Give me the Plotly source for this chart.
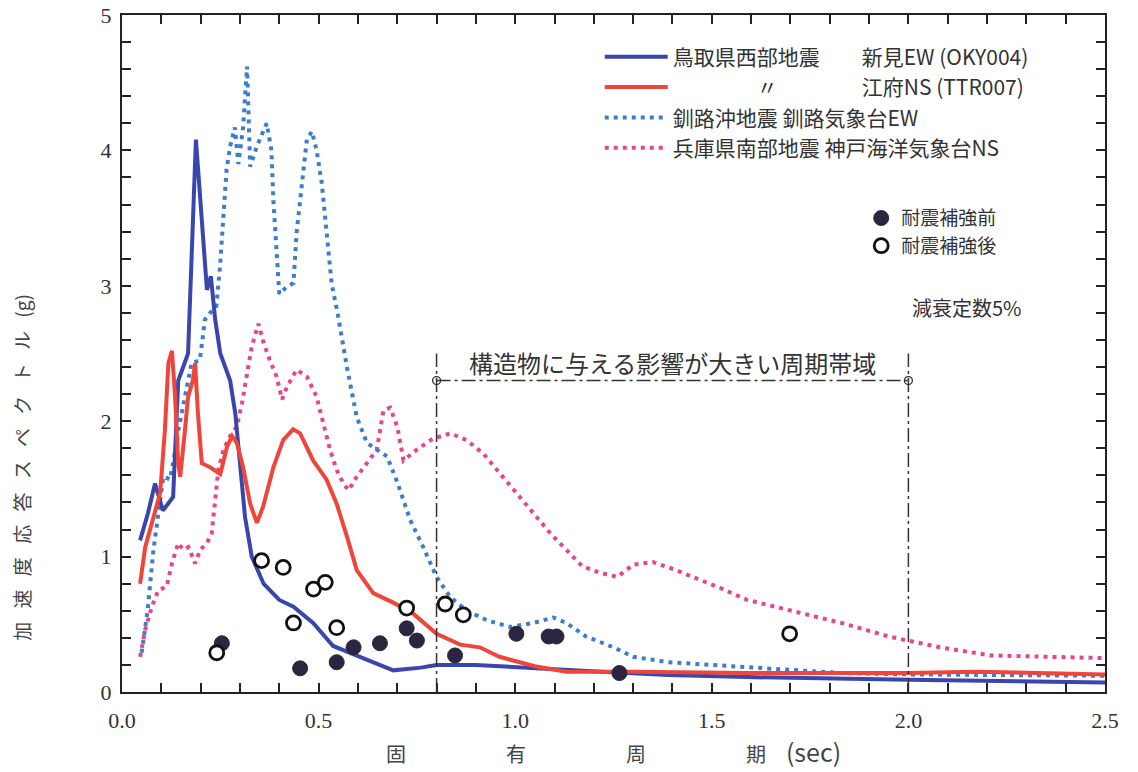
import plotly.graph_objects as go

# ---------------- data ----------------
niimi_T = [0.046, 0.066, 0.084, 0.104, 0.13, 0.143, 0.168, 0.188, 0.216, 0.226, 0.237, 0.25, 0.275,
           0.288, 0.30, 0.313, 0.33, 0.36, 0.40, 0.436, 0.486, 0.537, 0.605, 0.69, 0.76, 0.80, 0.90,
           1.05, 1.22, 1.39, 1.59, 2.0, 2.5]
niimi_S = [1.12, 1.32, 1.54, 1.34, 1.44, 2.3, 2.5, 4.08, 2.97, 3.07, 2.75, 2.5, 2.3,
           2.06, 1.69, 1.29, 1.0, 0.8, 0.68, 0.63, 0.51, 0.34, 0.26, 0.16, 0.18, 0.2, 0.2,
           0.18, 0.15, 0.125, 0.11, 0.09, 0.07]

efu_T = [0.046, 0.059, 0.08, 0.097, 0.109, 0.118, 0.127, 0.135, 0.143, 0.148, 0.16, 0.168, 0.18,
         0.186, 0.193, 0.203, 0.224, 0.25, 0.267, 0.28, 0.292, 0.308, 0.326, 0.343, 0.359, 0.385,
         0.41, 0.435, 0.453, 0.486, 0.52, 0.546, 0.572, 0.597, 0.639, 0.69, 0.74, 0.80, 0.86, 0.91,
         0.96, 1.05, 1.13, 1.3, 1.59, 2.0, 2.17, 2.5]
efu_S = [0.8, 1.07, 1.29, 1.47, 1.93, 2.43, 2.52, 2.18, 1.69, 1.59, 1.93, 2.18, 2.3,
         2.43, 2.06, 1.69, 1.66, 1.61, 1.81, 1.89, 1.84, 1.66, 1.39, 1.25, 1.37, 1.66,
         1.86, 1.94, 1.91, 1.71, 1.57, 1.39, 1.15, 0.9, 0.73, 0.66, 0.58, 0.43, 0.35, 0.33,
         0.26, 0.19, 0.15, 0.15, 0.14, 0.14, 0.15, 0.13]

kushiro_T = [0.05, 0.065, 0.08, 0.105, 0.122, 0.13, 0.143, 0.156, 0.169, 0.177, 0.198, 0.211, 0.224,
             0.24, 0.25, 0.258, 0.266, 0.275, 0.287, 0.296, 0.308, 0.318, 0.326, 0.343, 0.368, 0.38,
             0.385, 0.393, 0.40, 0.418, 0.436, 0.444, 0.458, 0.47, 0.483, 0.495, 0.508, 0.52, 0.533,
             0.55, 0.572, 0.597, 0.623, 0.648, 0.674, 0.70, 0.733, 0.766, 0.80, 0.835, 0.877, 0.928,
             0.987, 1.046, 1.097, 1.13, 1.18, 1.25, 1.30, 1.39, 1.51, 1.59, 1.83, 2.0, 2.5]
kushiro_S = [0.29, 0.6, 1.05, 1.59, 1.57, 1.69, 1.93, 2.13, 2.3, 2.43, 2.45, 2.75, 2.8,
             2.85, 3.17, 3.49, 3.86, 4.03, 4.17, 3.9, 4.17, 4.62, 3.88, 4.03, 4.2, 4.0,
             3.63, 3.26, 2.94, 2.99, 3.02, 3.39, 3.76, 4.08, 4.14, 4.0, 3.76, 3.39, 3.02,
             2.77, 2.4, 2.03, 1.84, 1.79, 1.74, 1.55, 1.27, 1.07, 0.85, 0.7, 0.6, 0.53,
             0.48, 0.51, 0.55, 0.51, 0.41, 0.33, 0.26, 0.22, 0.2, 0.18, 0.14, 0.13, 0.12]

kobe_T = [0.046, 0.059, 0.076, 0.092, 0.114, 0.127, 0.143, 0.156, 0.169, 0.186, 0.199, 0.216, 0.228,
          0.237, 0.245, 0.258, 0.275, 0.292, 0.305, 0.318, 0.33, 0.347, 0.36, 0.376, 0.393, 0.407,
          0.419, 0.444, 0.47, 0.495, 0.512, 0.529, 0.546, 0.563, 0.576, 0.597, 0.623, 0.648, 0.665,
          0.682, 0.70, 0.716, 0.75, 0.79, 0.835, 0.877, 0.919, 0.962, 1.004, 1.046, 1.09, 1.13,
          1.17, 1.216, 1.26, 1.30, 1.35, 1.40, 1.47, 1.52, 1.59, 1.70, 1.83, 1.95, 2.08, 2.21,
          2.34, 2.5]
kobe_S = [0.26, 0.46, 0.63, 0.75, 0.78, 0.95, 1.1, 1.05, 1.07, 0.95, 1.05, 1.1, 1.17,
          1.44, 1.64, 1.79, 1.89, 1.96, 2.13, 2.35, 2.55, 2.72, 2.58, 2.45, 2.33, 2.16,
          2.25, 2.38, 2.33, 2.18, 1.98, 1.79, 1.64, 1.54, 1.49, 1.59, 1.69, 1.79, 2.08,
          2.1, 1.96, 1.71, 1.79, 1.87, 1.91, 1.86, 1.76, 1.61, 1.47, 1.32, 1.17, 1.05,
          0.93, 0.88, 0.85, 0.94, 0.96, 0.91, 0.83, 0.77, 0.68, 0.6, 0.51, 0.41, 0.33, 0.27,
          0.26, 0.25]

before_T = [0.254, 0.453, 0.546, 0.589, 0.656, 0.724, 0.75, 0.847, 1.003, 1.085, 1.105, 1.265]
before_S = [0.36, 0.175, 0.22, 0.33, 0.36, 0.47, 0.38, 0.27, 0.43, 0.41, 0.41, 0.14]

after_T = [0.241, 0.355, 0.41, 0.436, 0.487, 0.517, 0.546, 0.724, 0.822, 0.868, 1.698]
after_S = [0.29, 0.97, 0.92, 0.51, 0.76, 0.81, 0.475, 0.62, 0.65, 0.57, 0.43]

series_names = [
    "鳥取県西部地震　　新見EW (OKY004)",
    "　　　　〃　　　　江府NS (TTR007)",
    "釧路沖地震 釧路気象台EW",
    "兵庫県南部地震 神戸海洋気象台NS",
]
marker_names = ["耐震補強前", "耐震補強後"]

band_start, band_end, band_level, band_top = 0.8, 2.0, 2.3, 2.5
band_label = "構造物に与える影響が大きい周期帯域"
damping_label = "減衰定数5%"
y_title = "\u2002\u2009".join(["加", "速", "度", "応", "答", "ス", "ペ", "ク", "ト", "ル", "(g)"])
x_title = "固　　　　　有　　　　　周　　　　　期\u2003<span style='font-size:25px'>(sec)</span>"

x_ticks = [round(i * 0.1, 1) for i in range(26)]
x_labels = {0.0: "0.0", 0.5: "0.5", 1.0: "1.0", 1.5: "1.5", 2.0: "2.0", 2.5: "2.5"}
y_ticks = [round(i * 0.2, 1) for i in range(26)]
y_labels = {0.0: "0", 1.0: "1", 2.0: "2", 3.0: "3", 4.0: "4", 5.0: "5"}

# ---------------- figure ----------------
JP = "Noto Sans CJK JP"
SERIF = "Liberation Serif"
BLUE = "#3a46ad"
RED = "#f0453a"
LBLUE = "#3f7ccc"
PINK = "#e8458f"
DARK = "#2b2540"
AX = "#222"

fig = go.Figure()

fig.add_trace(go.Scatter(x=kobe_T, y=kobe_S, mode="lines", name=series_names[3], legendrank=4,
                         line=dict(color=PINK, width=4, dash="4px,5px")))
fig.add_trace(go.Scatter(x=kushiro_T, y=kushiro_S, mode="lines", name=series_names[2], legendrank=3,
                         line=dict(color=LBLUE, width=4, dash="4px,5px")))
fig.add_trace(go.Scatter(x=niimi_T, y=niimi_S, mode="lines", name=series_names[0], legendrank=1,
                         line=dict(color=BLUE, width=4)))
fig.add_trace(go.Scatter(x=efu_T, y=efu_S, mode="lines", name=series_names[1], legendrank=2,
                         line=dict(color=RED, width=4)))

fig.add_trace(go.Scatter(x=before_T, y=before_S, mode="markers", name=marker_names[0],
                         legend="legend2", legendrank=1,
                         marker=dict(color=DARK, size=15, line=dict(color=DARK, width=1))))
fig.add_trace(go.Scatter(x=after_T, y=after_S, mode="markers", name=marker_names[1],
                         legend="legend2", legendrank=2,
                         marker=dict(color="white", size=14, line=dict(color="#111", width=2.8))))

# band bracket
band_line = dict(color="#333", width=1.5, dash="14px,4px,3px,4px")
fig.add_shape(type="line", x0=band_start, x1=band_start, y0=0, y1=band_top, xref="x", yref="y", line=band_line)
fig.add_shape(type="line", x0=band_end, x1=band_end, y0=0, y1=band_top, xref="x", yref="y", line=band_line)
fig.add_shape(type="line", x0=band_start, x1=band_end, y0=band_level, y1=band_level, xref="x", yref="y", line=band_line)
fig.add_trace(go.Scatter(x=[band_start, band_end], y=[band_level, band_level], mode="markers",
                         showlegend=False, hoverinfo="skip",
                         marker=dict(color="white", size=8, line=dict(color="#333", width=1.3))))

fig.add_annotation(x=(band_start + band_end) / 2, y=band_level, yshift=18, text=band_label,
                   showarrow=False, font=dict(family=JP, size=24, color="#333"))
fig.add_annotation(x=2.15, y=2.84, text=damping_label, showarrow=False,
                   font=dict(family=JP, size=20, color="#333"))
fig.add_annotation(xref="paper", x=-0.118, y=1.66, text=y_title,
                   textangle=-90, showarrow=False, font=dict(family=JP, size=19, color="#444"))

tick_style = dict(ticks="inside", ticklen=9, tickwidth=2, tickcolor=AX)

fig.update_layout(
    xaxis=dict(range=[0, 2.5], tickmode="array", tickvals=x_ticks,
               ticktext=[x_labels.get(v, "") for v in x_ticks], ticklabelstandoff=8,
               showgrid=False, zeroline=False, showline=True, linecolor=AX, linewidth=2,
               mirror="ticks", automargin=False,
               tickfont=dict(family=SERIF, size=22, color="#333"),
               title=dict(text=x_title, font=dict(family=JP, size=20, color="#444"), standoff=14),
               **tick_style),
    yaxis=dict(range=[0, 5], tickmode="array", tickvals=y_ticks,
               ticktext=[y_labels.get(v, "") for v in y_ticks], ticklabelstandoff=4,
               showgrid=False, zeroline=False, showline=True, linecolor=AX, linewidth=2,
               mirror="ticks", automargin=False,
               tickfont=dict(family=SERIF, size=22, color="#333"),
               **tick_style),
    width=1138, height=772,
    margin=dict(l=122, r=33, t=15, b=80),
    paper_bgcolor="white", plot_bgcolor="white",
    legend=dict(x=0.486, y=0.968, xanchor="left", yanchor="top", bgcolor="rgba(0,0,0,0)",
                font=dict(family=JP, size=21, color="#333"), itemwidth=63, tracegroupgap=0),
    legend2=dict(x=0.752, y=0.728, xanchor="left", yanchor="top", bgcolor="rgba(0,0,0,0)",
                 font=dict(family=JP, size=19, color="#333"), itemwidth=30, tracegroupgap=0),
    showlegend=True,
)

fig.write_html("out.html", config={"displayModeBar": False},
               post_script="document.body.style.margin='0';")
